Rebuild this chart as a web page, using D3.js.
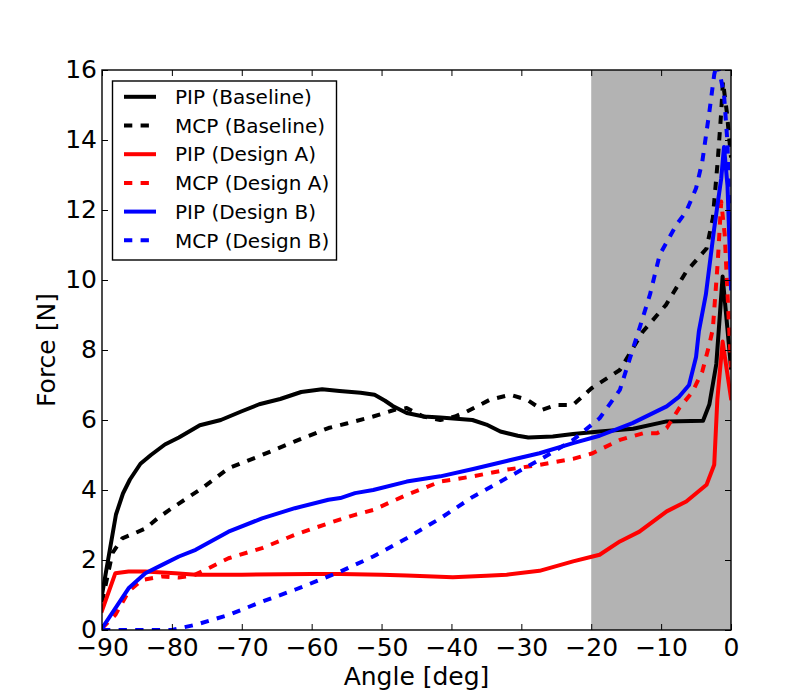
<!DOCTYPE html>
<html>
<head>
<meta charset="utf-8">
<script src="https://cdn.jsdelivr.net/npm/d3@7/dist/d3.min.js"></script>
<style>
  html, body { margin: 0; padding: 0; background: #fff; }
  svg { display: block; font-family: "DejaVu Sans", sans-serif; }
</style>
</head>
<body>
<svg id="chart" width="812" height="700"></svg>
<script>
// ---- data ----
const xTicks = [-90, -80, -70, -60, -50, -40, -30, -20, -10, 0];
const yTicks = [0, 2, 4, 6, 8, 10, 12, 14, 16];
const shadeRange = [-20, 0];

const seriesNames = ["PIP (Baseline)", "MCP (Baseline)", "PIP (Design A)", "MCP (Design A)", "PIP (Design B)", "MCP (Design B)"];
const seriesColors = ["#000000", "#000000", "#ff0000", "#ff0000", "#0000ff", "#0000ff"];
const seriesDashed = [false, true, false, true, false, true];

const pipBaseAng = [-90, -88, -87, -86, -84.5, -83, -81, -79, -76, -73, -70, -67.5, -64.5, -61.5, -58.5, -56, -53, -51, -49.5, -48.4, -46.4, -44, -41.6, -37, -35, -33, -30.5, -29, -25.5, -22.6, -18.8, -14, -9.2, -4, -3.1, -2.1, -1.2, 0];
const pipBase    = [1.0, 3.3, 3.9, 4.3, 4.75, 5.0, 5.3, 5.5, 5.85, 6.0, 6.25, 6.45, 6.6, 6.8, 6.88, 6.83, 6.78, 6.72, 6.55, 6.4, 6.2, 6.1, 6.07, 6.0, 5.87, 5.67, 5.55, 5.5, 5.53, 5.6, 5.67, 5.75, 5.96, 5.98, 6.44, 7.6, 10.1, 7.5];

const mcpBaseAng = [-90, -88.5, -87.1, -85.5, -83.8, -82, -80, -75.7, -71.9, -67.1, -62.4, -57.6, -55, -51.2, -48, -46.4, -44, -41.6, -39.5, -37.8, -34.5, -31.6, -29.2, -27, -25, -22.6, -20, -15.9, -12.6, -9.3, -6.4, -3.5, -2.6, -1.9, -1.4, -1.15, -0.6, 0];
const mcpBase    = [0.8, 2.2, 2.62, 2.75, 2.9, 3.2, 3.48, 4.05, 4.62, 5.0, 5.39, 5.77, 5.9, 6.1, 6.3, 6.34, 6.1, 6.0, 6.1, 6.24, 6.58, 6.72, 6.58, 6.29, 6.43, 6.43, 6.9, 7.43, 8.53, 9.29, 10.24, 10.9, 11.77, 13.4, 14.8, 15.67, 14.8, 13.5];

const pipAAng = [-90, -88.1, -86.2, -83.8, -79.5, -76.6, -70, -60, -55.9, -50, -46.4, -39.8, -35, -32.1, -27.4, -22.6, -19.8, -18.8, -15.9, -13.1, -9.2, -6.4, -3.5, -2.4, -1.95, -1.2, 0];
const pipA    = [0.55, 1.62, 1.67, 1.67, 1.62, 1.58, 1.58, 1.6, 1.6, 1.58, 1.56, 1.51, 1.55, 1.58, 1.69, 1.96, 2.1, 2.15, 2.53, 2.81, 3.39, 3.67, 4.15, 4.72, 6.6, 8.24, 6.62];

const mcpAAng = [-90, -88.1, -86.2, -84.3, -81.4, -79, -77, -75.2, -71.9, -67.1, -62.4, -57.6, -53.8, -51.2, -46.4, -41.6, -36.9, -32.1, -27.4, -22.6, -19.8, -18.8, -15.9, -12.6, -10.6, -9.2, -7.4, -5.5, -4.1, -3.1, -2.6, -1.9, -1.4, -0.9, 0];
const mcpA    = [0.05, 0.43, 1.1, 1.43, 1.53, 1.5, 1.55, 1.72, 2.05, 2.34, 2.72, 3.05, 3.29, 3.43, 3.86, 4.24, 4.39, 4.58, 4.72, 4.89, 5.05, 5.15, 5.43, 5.62, 5.62, 5.77, 6.34, 6.81, 7.39, 8.16, 8.6, 10.5, 12.24, 11.3, 7.5];

const pipBAng = [-90, -88.1, -86.2, -83.8, -81.4, -79, -76.6, -71.9, -67.1, -62.4, -57.6, -55.9, -53.8, -51.2, -46.4, -41.6, -36.9, -32.1, -27.4, -22.6, -18.8, -14.1, -9.2, -7.4, -6, -5, -4.6, -3.6, -2.4, -1.4, -1.0, -0.5, 0];
const pipB    = [0.05, 0.62, 1.19, 1.62, 1.86, 2.1, 2.29, 2.81, 3.19, 3.48, 3.72, 3.77, 3.91, 4.0, 4.24, 4.39, 4.6, 4.83, 5.05, 5.34, 5.55, 5.91, 6.39, 6.67, 7.0, 7.8, 8.53, 9.58, 11.48, 12.9, 13.8, 12.7, 9.76];

const mcpBAng = [-90, -80, -76.6, -71.9, -67.1, -62.4, -57.6, -55.9, -51.2, -46.4, -41.6, -36.9, -32.1, -27.4, -22.6, -18.8, -15.9, -13.1, -11.6, -10.2, -7.8, -6.4, -5, -4.1, -3.1, -2.4, -2.0, -1.6, -1.0, -0.5, -0.2, 0];
const mcpB    = [0, 0, 0.15, 0.43, 0.81, 1.15, 1.53, 1.67, 2.1, 2.62, 3.19, 3.81, 4.34, 4.86, 5.43, 6.05, 6.86, 8.62, 9.58, 10.72, 11.58, 11.96, 12.62, 13.39, 14.8, 15.87, 16.2, 15.9, 15.3, 13.9, 11.5, 10.0];

const seriesAngles = [pipBaseAng, mcpBaseAng, pipAAng, mcpAAng, pipBAng, mcpBAng];
const seriesValues = [pipBase, mcpBase, pipA, mcpA, pipB, mcpB];

// ---- layout ----
const svg = d3.select("#chart");
const L = 102, R = 731, T = 70, B = 630;
const x = d3.scaleLinear().domain([-90, 0]).range([L, R]);
const y = d3.scaleLinear().domain([0, 16]).range([B, T]);

svg.append("defs").append("clipPath").attr("id", "clip")
  .append("rect").attr("x", L).attr("y", T).attr("width", R - L).attr("height", B - T);

// shaded region
svg.append("rect")
  .attr("x", x(shadeRange[0])).attr("y", T)
  .attr("width", x(shadeRange[1]) - x(shadeRange[0])).attr("height", B - T)
  .attr("fill", "#b3b3b3");

// lines
const line = d3.line().x(d => x(d[0])).y(d => y(d[1]));
const gLines = svg.append("g").attr("clip-path", "url(#clip)");
seriesNames.forEach((name, i) => {
  const pts = seriesAngles[i].map((a, j) => [a, seriesValues[i][j]]);
  gLines.append("path")
    .datum(pts)
    .attr("d", line)
    .attr("fill", "none")
    .attr("stroke", seriesColors[i])
    .attr("stroke-width", 4)
    .attr("stroke-linejoin", "round")
    .attr("stroke-linecap", seriesDashed[i] ? "butt" : "square")
    .attr("stroke-dasharray", seriesDashed[i] ? "8.3,8.3" : null);
});

// axes
const tickLen = 6;
const fmt = d3.format("d");
const xAxis = svg.append("g").attr("transform", `translate(0,${B})`)
  .call(d3.axisBottom(x).tickValues(xTicks).tickFormat(fmt).tickSizeInner(-tickLen).tickSizeOuter(0).tickPadding(8));
const xAxisTop = svg.append("g").attr("transform", `translate(0,${T})`)
  .call(d3.axisTop(x).tickValues(xTicks).tickFormat("").tickSizeInner(-tickLen).tickSizeOuter(0));
const yAxis = svg.append("g").attr("transform", `translate(${L},0)`)
  .call(d3.axisLeft(y).tickValues(yTicks).tickFormat(fmt).tickSizeInner(-tickLen).tickSizeOuter(0).tickPadding(5));
const yAxisRight = svg.append("g").attr("transform", `translate(${R},0)`)
  .call(d3.axisRight(y).tickValues(yTicks).tickFormat("").tickSizeInner(-tickLen).tickSizeOuter(0));

[xAxis, xAxisTop, yAxis, yAxisRight].forEach(g => {
  g.select(".domain").remove();
  g.selectAll(".tick line").attr("stroke", "#000").attr("stroke-width", 1);
  g.selectAll(".tick text").attr("fill", "#000").attr("font-size", 25).attr("font-family", "DejaVu Sans");
});
yAxis.selectAll(".tick text").attr("dy", "0.28em");

// frame
svg.append("rect").attr("x", L).attr("y", T).attr("width", R - L).attr("height", B - T)
  .attr("fill", "none").attr("stroke", "#000").attr("stroke-width", 1.4);

// axis labels
svg.append("text").attr("x", (L + R) / 2).attr("y", 685).attr("text-anchor", "middle")
  .attr("font-size", 25).text("Angle [deg]");
svg.append("text").attr("transform", `translate(55,${(T + B) / 2}) rotate(-90)`).attr("text-anchor", "middle")
  .attr("font-size", 25).text("Force [N]");

// legend
const lg = svg.append("g");
lg.append("rect").attr("x", 112.5).attr("y", 81).attr("width", 224).attr("height", 179)
  .attr("fill", "#fff").attr("stroke", "#000").attr("stroke-width", 1.4);
seriesNames.forEach((name, i) => {
  const cy = 96.8 + i * 28.7;
  lg.append("line").attr("x1", 124).attr("x2", 156).attr("y1", cy).attr("y2", cy)
    .attr("stroke", seriesColors[i]).attr("stroke-width", 4)
    .attr("stroke-dasharray", seriesDashed[i] ? "8.3,8.3" : null);
  lg.append("text").attr("x", 175).attr("y", cy).attr("dy", "0.36em")
    .attr("font-size", 20).text(name);
});
</script>
</body>
</html>
